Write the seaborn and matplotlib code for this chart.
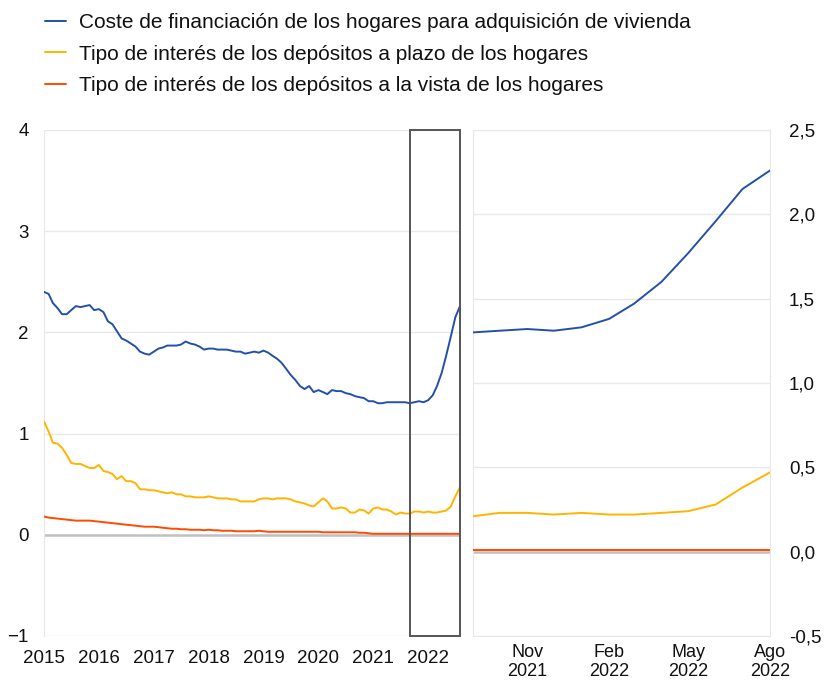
import numpy as np
import pandas as pd
import matplotlib
matplotlib.use("Agg")
import matplotlib.pyplot as plt
from matplotlib.lines import Line2D
import seaborn as sns

# monthly data, Jan 2015 - Aug 2022
fechas = pd.date_range("2015-01-01", "2022-08-01", freq="MS")

coste_vivienda = [
    2.40, 2.38, 2.29, 2.24, 2.18, 2.18, 2.22, 2.26, 2.25, 2.26, 2.27, 2.22,
    2.23, 2.20, 2.11, 2.08, 2.01, 1.94, 1.92, 1.89, 1.86, 1.81, 1.79, 1.78,
    1.81, 1.84, 1.85, 1.87, 1.87, 1.87, 1.88, 1.91, 1.89, 1.88, 1.86, 1.83,
    1.84, 1.84, 1.83, 1.83, 1.83, 1.82, 1.81, 1.81, 1.79, 1.80, 1.81, 1.80,
    1.82, 1.80, 1.77, 1.74, 1.70, 1.64, 1.58, 1.53, 1.47, 1.44, 1.47, 1.41,
    1.43, 1.41, 1.39, 1.43, 1.42, 1.42, 1.40, 1.39, 1.37, 1.36, 1.35, 1.32,
    1.32, 1.30, 1.30, 1.31, 1.31, 1.31, 1.31, 1.31,
    1.30, 1.31, 1.32, 1.31, 1.33, 1.38, 1.47, 1.60, 1.77, 1.96, 2.15, 2.26,
]

depositos_plazo = [
    1.12, 1.02, 0.91, 0.90, 0.86, 0.79, 0.71, 0.70, 0.70, 0.68, 0.66, 0.66,
    0.69, 0.63, 0.62, 0.60, 0.55, 0.58, 0.53, 0.53, 0.51, 0.45, 0.45, 0.44,
    0.44, 0.43, 0.42, 0.41, 0.42, 0.40, 0.40, 0.38, 0.38, 0.37, 0.37, 0.37,
    0.38, 0.37, 0.36, 0.36, 0.36, 0.35, 0.35, 0.33, 0.33, 0.33, 0.33, 0.35,
    0.36, 0.36, 0.35, 0.36, 0.36, 0.36, 0.35, 0.33, 0.32, 0.31, 0.29, 0.28,
    0.32, 0.36, 0.33, 0.26, 0.26, 0.27, 0.26, 0.22, 0.22, 0.25, 0.24, 0.21,
    0.26, 0.27, 0.25, 0.25, 0.23, 0.20, 0.22, 0.21,
    0.21, 0.23, 0.23, 0.22, 0.23, 0.22, 0.22, 0.23, 0.24, 0.28, 0.38, 0.47,
]

depositos_vista = [
    0.18, 0.17, 0.165, 0.16, 0.155, 0.15, 0.145, 0.14, 0.14, 0.14, 0.14, 0.135,
    0.13, 0.125, 0.12, 0.115, 0.11, 0.105, 0.10, 0.095, 0.09, 0.085, 0.08, 0.08,
    0.08, 0.075, 0.07, 0.065, 0.06, 0.06, 0.055, 0.055, 0.05, 0.05, 0.05, 0.045,
    0.05, 0.045, 0.045, 0.04, 0.04, 0.04, 0.035, 0.035, 0.035, 0.035, 0.035, 0.04,
    0.035, 0.03, 0.03, 0.03, 0.03, 0.03, 0.03, 0.03, 0.03, 0.03, 0.03, 0.03,
    0.03, 0.025, 0.025, 0.025, 0.025, 0.025, 0.025, 0.025, 0.025, 0.02, 0.02, 0.015,
    0.01, 0.01, 0.01, 0.01, 0.01, 0.01, 0.01, 0.01,
    0.01, 0.01, 0.01, 0.01, 0.01, 0.01, 0.01, 0.01, 0.01, 0.01, 0.01, 0.01,
]

series = [
    "Coste de financiación de los hogares para adquisición de vivienda",
    "Tipo de interés de los depósitos a plazo de los hogares",
    "Tipo de interés de los depósitos a la vista de los hogares",
]
colores = ["#2350A8", "#FFB400", "#FF4B00"]

inicio_zoom = "2021-09-01"
ticks_izq = pd.date_range("2015-01-01", "2022-01-01", freq="YS")
ticks_der = pd.to_datetime(["2021-11-01", "2022-02-01", "2022-05-01", "2022-08-01"])
etiquetas_der = ["Nov\n2021", "Feb\n2022", "May\n2022", "Ago\n2022"]

df = pd.DataFrame({
    "fecha": np.tile(fechas, 3),
    "valor": coste_vivienda + depositos_plazo + depositos_vista,
    "serie": np.repeat(series, len(fechas)),
})

sns.set_style("white")
plt.rcParams["font.family"] = ["Liberation Sans", "DejaVu Sans"]
plt.rcParams["font.size"] = 13.5
plt.rcParams["text.color"] = "#111111"
plt.rcParams["xtick.color"] = "#111111"
plt.rcParams["ytick.color"] = "#111111"

fig = plt.figure(figsize=(8.27, 6.82), dpi=100)
ax1 = fig.add_axes([44 / 827, 46 / 682, 416 / 827, 506 / 682])
ax2 = fig.add_axes([473 / 827, 46 / 682, 297 / 827, 506 / 682])

grid_col = "#e8e8e8"

# left panel
ax1.set_ylim(-1, 4)
ax1.set_yticks([-1, 0, 1, 2, 3, 4])
ax1.set_yticklabels(["\u22121", "0", "1", "2", "3", "4"])
for y in [-1, 1, 2, 3, 4]:
    ax1.axhline(y, color=grid_col, lw=1, zorder=0)
ax1.axhline(0, color="#c0c0c0", lw=1.8, zorder=1)
sns.lineplot(data=df, x="fecha", y="valor", hue="serie", palette=colores,
             hue_order=series, lw=1.4, legend=False, ax=ax1, zorder=3)
ax1.set_xlim(fechas[0], fechas[-1])
ax1.set_xticks(ticks_izq)
ax1.set_xticklabels([str(d.year) for d in ticks_izq])
ax1.axvspan(pd.Timestamp(inicio_zoom), fechas[-1], ymin=0, ymax=1, fill=False,
            edgecolor="#555555", lw=1.4, zorder=4, clip_on=False)
for s in ["top", "right", "bottom"]:
    ax1.spines[s].set_visible(False)
ax1.spines["left"].set_color(grid_col)
ax1.tick_params(axis="y", length=0, pad=11)
ax1.tick_params(axis="x", length=0, pad=10)

# right panel (zoom)
dz = df[df["fecha"] >= inicio_zoom]
ax2.set_ylim(-0.5, 2.5)
ax2.set_yticks(np.arange(-0.5, 2.51, 0.5))
ax2.set_yticklabels(["-0,5", "0,0", "0,5", "1,0", "1,5", "2,0", "2,5"])
for y in [-0.5, 0.5, 1.0, 1.5, 2.0, 2.5]:
    ax2.axhline(y, color=grid_col, lw=1, zorder=0)
ax2.axhline(0, color="#c0c0c0", lw=1.8, zorder=1)
sns.lineplot(data=dz, x="fecha", y="valor", hue="serie", palette=colores,
             hue_order=series, lw=1.4, legend=False, ax=ax2, zorder=3)
ax2.set_xlim(pd.Timestamp(inicio_zoom), fechas[-1])
ax2.set_xticks(ticks_der)
ax2.set_xticklabels(etiquetas_der, linespacing=1.1, fontsize=13)
ax2.yaxis.tick_right()
ax2.tick_params(axis="y", length=0, pad=13.5)
ax2.tick_params(axis="x", length=0, pad=6)
for s in ax2.spines.values():
    s.set_color(grid_col)

for ax in (ax1, ax2):
    ax.set_xlabel("")
    ax.set_ylabel("")

handles = [Line2D([0], [0], color=c, lw=1.4) for c in colores]
fig.legend(handles, series, loc="upper left", bbox_to_anchor=(30 / 827, 1.002),
           frameon=False, fontsize=15, handlelength=1.05, handletextpad=0.6,
           labelspacing=0.6, borderaxespad=0.3)

fig.savefig("out.png", dpi=100)
